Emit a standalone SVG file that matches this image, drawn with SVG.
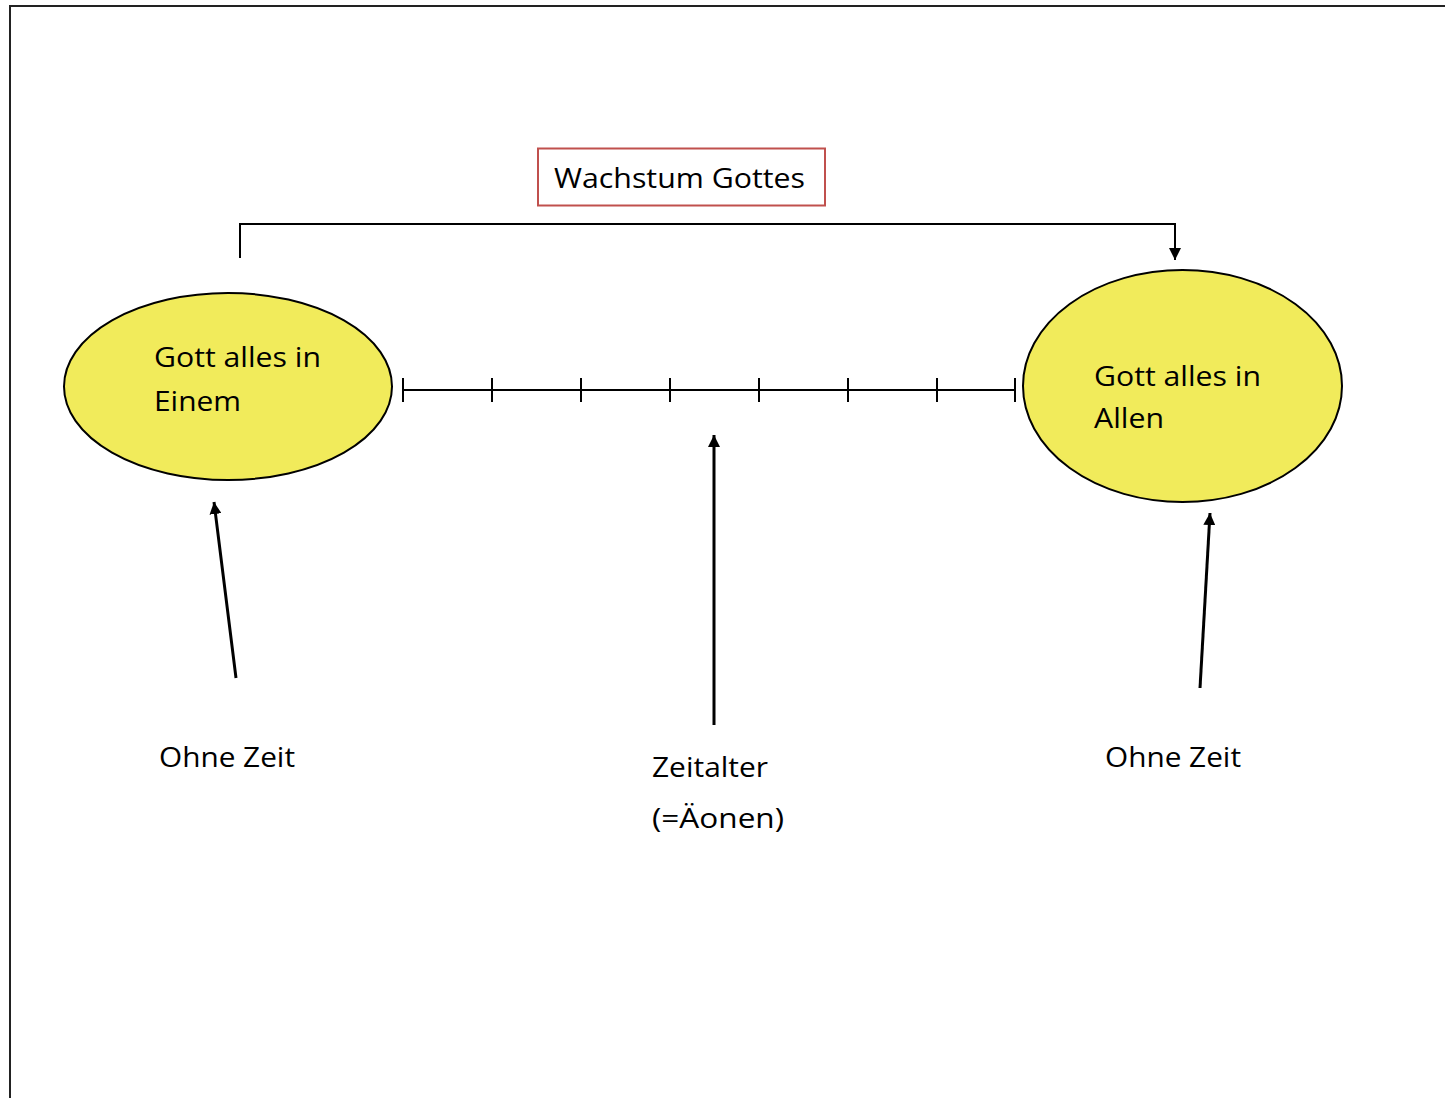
<svg xmlns="http://www.w3.org/2000/svg" width="1445" height="1098" viewBox="0 0 1445 1098">
  <defs>
    <style>
      .lbl { font-family: "Open Sans", "Liberation Sans", sans-serif; font-size: 28px; fill: #000; }
      .ell { fill: #F1EB5B; stroke: #000; stroke-width: 2; }
      .ln { fill: none; stroke: #000; stroke-width: 2; }
      .arr { fill: none; stroke: #000; stroke-width: 3; }
    </style>
    <marker id="ah" viewBox="0 0 10 10" refX="10" refY="5" markerWidth="12" markerHeight="12" markerUnits="userSpaceOnUse" orient="auto">
      <path d="M0,0 L10,5 L0,10 Z" fill="#000"/>
    </marker>
  </defs>
  <rect width="1445" height="1098" fill="#fff"/>
  <path d="M10,1098 V6 H1445" fill="none" stroke="#222" stroke-width="2"/>

  <g id="title">
    <rect x="538" y="148.5" width="287" height="57" fill="#fff" stroke="#C0504D" stroke-width="2"/>
    <text class="lbl" x="554" y="188" textLength="251" lengthAdjust="spacingAndGlyphs">Wachstum Gottes</text>
  </g>

  <g id="node-einem">
    <ellipse class="ell" cx="228" cy="386.5" rx="164" ry="93.5"/>
    <text class="lbl" x="154" y="367" textLength="167" lengthAdjust="spacingAndGlyphs">Gott alles in</text>
    <text class="lbl" x="154" y="411" textLength="87" lengthAdjust="spacingAndGlyphs">Einem</text>
  </g>

  <g id="node-allen">
    <ellipse class="ell" cx="1182.5" cy="386" rx="159.5" ry="116"/>
    <text class="lbl" x="1094" y="386" textLength="167" lengthAdjust="spacingAndGlyphs">Gott alles in</text>
    <text class="lbl" x="1094" y="428" textLength="70" lengthAdjust="spacingAndGlyphs">Allen</text>
  </g>

  <g id="timeline">
    <path class="ln" d="M403,390 H1015 M403,378 V402 M492,378 V402 M581,378 V402 M670,378 V402 M759,378 V402 M848,378 V402 M937,378 V402 M1015,378 V402"/>
  </g>

  <g id="label-ohne-zeit-left">
    <text class="lbl" x="159" y="767" textLength="136" lengthAdjust="spacingAndGlyphs">Ohne Zeit</text>
  </g>
  <g id="label-zeitalter">
    <text class="lbl" x="652" y="777" textLength="116" lengthAdjust="spacingAndGlyphs">Zeitalter</text>
    <text class="lbl" x="652" y="828" textLength="132" lengthAdjust="spacingAndGlyphs">(=Äonen)</text>
  </g>
  <g id="label-ohne-zeit-right">
    <text class="lbl" x="1105" y="767" textLength="136" lengthAdjust="spacingAndGlyphs">Ohne Zeit</text>
  </g>

  <g id="connectors">
    <path class="ln" d="M240,258 V224 H1175 V260" marker-end="url(#ah)"/>
    <line class="arr" x1="236" y1="678" x2="214" y2="502" marker-end="url(#ah)"/>
    <line class="arr" x1="714" y1="725" x2="714" y2="435" marker-end="url(#ah)"/>
    <line class="arr" x1="1200" y1="688" x2="1210" y2="513" marker-end="url(#ah)"/>
  </g>
</svg>
